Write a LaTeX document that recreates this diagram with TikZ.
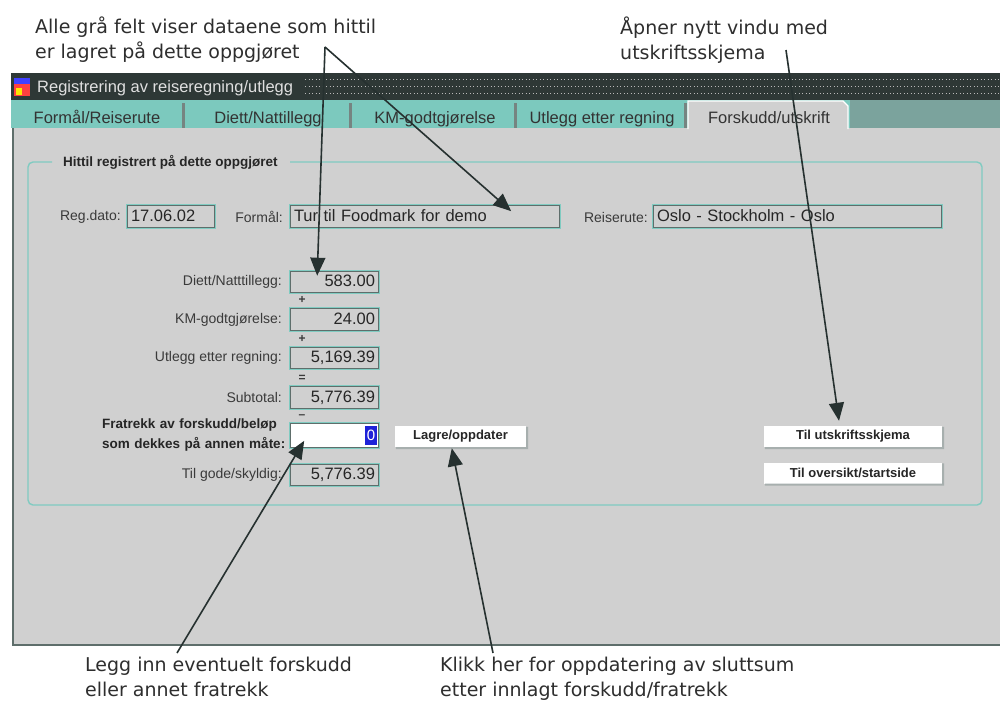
\documentclass[tikz,border=0pt]{standalone}
\usepackage{fontspec}
\setmainfont{Liberation Sans}
\newfontfamily\annotfont{DejaVu Sans}
\usetikzlibrary{calc,arrows.meta}
\definecolor{barc}{HTML}{2E3836}
\definecolor{tabc}{HTML}{7CC9BE}
\definecolor{hatchc}{HTML}{7BA39D}
\definecolor{panelc}{HTML}{D0D0D0}
\definecolor{inkc}{HTML}{263130}
\definecolor{tealb}{HTML}{80CBC1}
\definecolor{darkb}{HTML}{5E6E6B}
\definecolor{uitext}{HTML}{3A3A3A}
\definecolor{selblue}{HTML}{1E22D8}
\begin{document}
\begin{tikzpicture}[x=1pt,y=-1pt,
  annot/.style={font=\annotfont\fontsize{19}{25}\selectfont, text=black!82, align=left, inner sep=0pt, anchor=north west},
  ptr/.style={draw=inkc, line width=1.6pt, -{Triangle[length=18pt,width=15pt]}},
  tabtxt/.style={font=\fontsize{16.5}{18}\selectfont, text=black!80, inner sep=0pt, anchor=base},
  lbl/.style={font=\fontsize{14}{16}\selectfont, text=uitext, inner sep=0pt, anchor=east},
  blbl/.style={font=\bfseries\fontsize{13.5}{20}\selectfont, text=black!85, inner sep=0pt},
  field/.style={draw=tealb, line width=1.6pt, fill=panelc, inner xsep=4pt, inner ysep=0pt, minimum height=23pt, text height=12pt, text depth=3pt, font=\fontsize{16.5}{18}\selectfont, text=black!85},
  numfield/.style={field, minimum width=89pt, text width=81pt, align=right},
  btn/.style={fill=white, inner sep=0pt, minimum height=21pt, font=\bfseries\fontsize{13}{15}\selectfont, text=black!85},
  sign/.style={font=\bfseries\fontsize{12}{12}\selectfont, inner sep=0pt, text=uitext}
]
\useasboundingbox (0,0) rectangle (1000,702);
\fill[white] (0,0) rectangle (1000,702);

% window chrome
\fill[barc] (11,73) rectangle (1000,100);
\foreach \yy in {79,86,93}
  \draw[gray!55, line width=1pt, dash pattern=on 1pt off 2.5pt] (305,\yy) -- (1000,\yy);
\fill[blue!75] (14,78) rectangle (30,84);
\fill[red!75] (14,84) rectangle (30,96);
\fill[yellow!90!orange] (16,88) rectangle (22,95);
\node[anchor=base west, inner sep=0pt, font=\fontsize{16.5}{18}\selectfont, text=white!88!black] (title) at (37,92) {Registrering av reiseregning/utlegg};

% tab strip
\fill[tabc] (11,100) rectangle (850,128);
\fill[hatchc] (850,100) rectangle (1000,128);
\foreach \xx in {182,349,514,684}
  \fill[darkb!85] (\xx,103) rectangle (\xx+3,128);
\fill[panelc] (13,128) rectangle (1000,645);
\draw[white, fill=panelc, line width=1.2pt] (688,129) -- (688,101) -- (843,101) -- (848,106) -- (848,129);
\node[tabtxt] (t1) at (97,123) {Formål/Reiserute};
\node[tabtxt] (t2) at (268,123) {Diett/Nattillegg};
\node[tabtxt] (t3) at (435,123) {KM-godtgjørelse};
\node[tabtxt] (t4) at (602,123) {Utlegg etter regning};
\node[tabtxt] (t5) at (769,123) {Forskudd/utskrift};

% panel border
\draw[darkb, line width=1.2pt] (13,128) -- (13,645) -- (1000,645);

% group box
\draw[tealb, line width=1.4pt, rounded corners=5pt] (52,162) -- (28,162) -- (28,505) -- (982,505) -- (982,162) -- (290,162);
\node[blbl, anchor=base west] (grp) at (63,166) {Hittil registrert på dette oppgjøret};

% first row
\node[lbl] (lreg) at (121,217) {Reg.dato:};
\node[field, minimum width=88pt, text width=80pt, align=left] (regf) at (171,216.5) {17.06.02};
\node[lbl] (lform) at (283,217) {Formål:};
\node[field, minimum width=270pt, text width=262pt, align=left] (formf) at (425,216.5) {Tur til Foodmark for demo};
\node[lbl] (lreise) at (648,217) {Reiserute:};
\node[field, minimum width=289pt, text width=281pt, align=left] (reisef) at (797.5,216.5) {Oslo - Stockholm - Oslo};

% amounts
\node[lbl] (ldiet) at (282,282) {Diett/Natttillegg:};
\node[numfield] (diet) at (334.5,282) {583.00};
\node[sign] (s1) at (302,300) {+};
\node[lbl] (lkm) at (282,319.5) {KM-godtgjørelse:};
\node[numfield] (km) at (334.5,319.5) {24.00};
\node[sign] (s2) at (302,339) {+};
\node[lbl] (lutl) at (282,358) {Utlegg etter regning:};
\node[numfield] (utl) at (334.5,358) {5,169.39};
\node[sign] (s3) at (302,378) {=};
\node[lbl] (lsub) at (282,397.5) {Subtotal:};
\node[numfield] (sub) at (334.5,397.5) {5,776.39};
\node[sign] (s4) at (302,417) {--};
\node[blbl, anchor=north west, text width=185pt, align=left] (lfra) at (102,419) {Fratrekk av forskudd/beløp\\som dekkes på annen måte:};
\node[numfield, fill=white, minimum height=25pt] (fra) at (334.5,435.5) {};
\node[fill=selblue, text=white, inner xsep=1.5pt, inner ysep=0pt, minimum height=19pt, font=\fontsize{15}{16}\selectfont, anchor=east] (sel) at (377,435.5) {0};
\node[lbl] (ltil) at (282,475) {Til gode/skyldig:};
\node[numfield] (til) at (334.5,475) {5,776.39};

\foreach \n in {regf,formf,reisef,diet,km,utl,sub,fra,til}
  \draw[darkb, line width=0.8pt] ($(\n.north west)+(1.5,1.5)$) rectangle ($(\n.south east)+(-1.5,-1.5)$);

% buttons
\node[btn, minimum width=131pt] (save) at (460.5,436.5) {Lagre/oppdater};
\node[btn, minimum width=178pt] (print) at (853,436.5) {Til utskriftsskjema};
\node[btn, minimum width=178pt] (home) at (853,473) {Til oversikt/startside};
\foreach \n in {save,print,home}
  \fill[darkb!55] ($(\n.south west)+(1,0)$) rectangle ($(\n.south east)+(2,2)$)
                  ($(\n.north east)+(0,1)$) rectangle ($(\n.south east)+(2,0)$);

% annotations
\node[annot] (n1) at (35,17) {Alle grå felt viser dataene som hittil\\er lagret på dette oppgjøret};
\node[annot] (n2) at (620,17) {Åpner nytt vindu med\\utskriftsskjema};
\node[annot] (n3) at (85,657) {Legg inn eventuelt forskudd\\eller annet fratrekk};
\node[annot] (n4) at (440,657) {Klikk her for oppdatering av sluttsum\\etter innlagt forskudd/fratrekk};

\coordinate (a1) at (325,47);
\coordinate (a2) at (786,50);
\coordinate (a3) at (177,653);
\coordinate (a4) at (493,653);

\draw[ptr] (a1) -- ($(diet.north west)+(28,6)$);
\draw[ptr] (a1) -- ($(formf.north west)+(222,7)$);
\draw[ptr] (a2) -- ($(print.north)+(-14,-5)$);
\draw[ptr] (a3) -- ($(fra.south west)+(15,-8)$);
\draw[ptr] (a4) -- ($(save.south west)+(57,1)$);
\end{tikzpicture}
\end{document}
